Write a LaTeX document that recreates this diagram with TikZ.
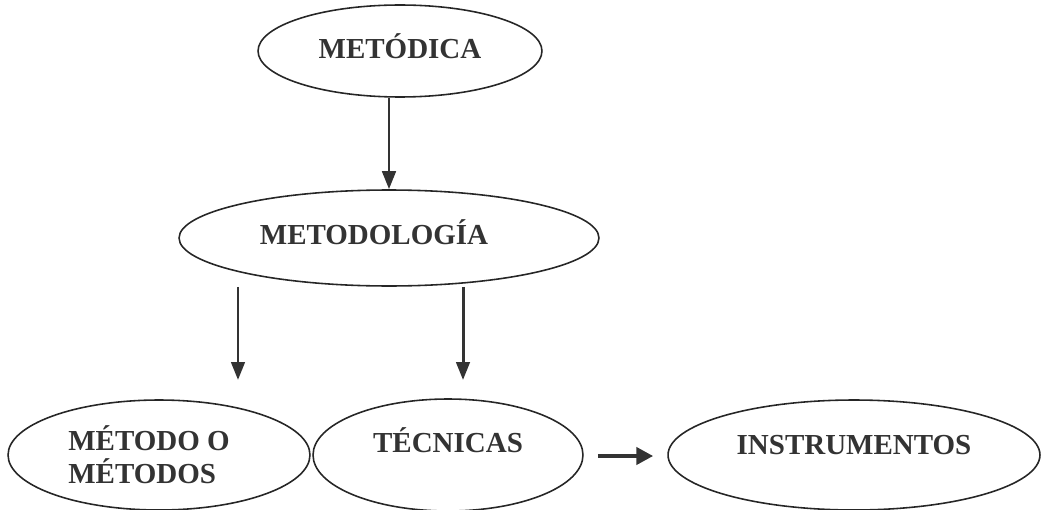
\documentclass[tikz,border=0pt]{standalone}
\usepackage{fontspec}
\setmainfont{Liberation Serif}
\usetikzlibrary{shapes.geometric, arrows.meta}

\begin{document}
\begin{tikzpicture}
            [->, >={Triangle[length=0.36cm, width=0.27cm]}, x=0.02cm, y=-0.02cm, semithick,
             concept/.style={shape=ellipse, draw=black!85, line width=0.9pt, inner sep=0pt,
                             text=black!80, font=\fontsize{16.5}{19}\selectfont\bfseries}]
            \useasboundingbox (0,0) rectangle (1044,510);

            \node[concept, minimum width=5.68cm, minimum height=1.84cm, text depth=0.2cm] (metodica) at (400,51) {MET\'ODICA};
            \node[concept, minimum width=8.4cm, minimum height=1.92cm, text depth=0.25cm] (metodologia) at (389,238) {\hspace{-0.6cm}METODOLOG\'IA};
            \node[concept, minimum width=6.04cm, minimum height=2.2cm, align=left] (metodo) at (159,455) {\hspace{-0.4cm}M\'ETODO O\\\hspace{-0.4cm}M\'ETODOS};
            \node[concept, minimum width=5.4cm, minimum height=2.24cm, text depth=0.6cm] (tecnicas) at (448,455) {T\'ECNICAS};
            \node[concept, minimum width=7.44cm, minimum height=2.2cm, text depth=0.4cm] (instrumentos) at (854,455) {INSTRUMENTOS};

            \coordinate (metodoin) at (238,380);
            \coordinate (tecnicasin) at (463,380);

            \path [->, line width=1.7pt, color=black!80] (metodica.south -| metodologia.north) edge (metodologia.north);
            \path [->, line width=1.7pt, color=black!80] (metodologia.south -| metodoin) edge (metodoin);
            \path [->, line width=1.7pt, color=black!80] (metodologia.south -| tecnicasin) edge (tecnicasin);
            \path [-{Triangle[length=0.34cm, width=0.34cm]}, line width=2.8pt, color=black!80] ([shift={(14,1)}]tecnicas.east) edge ([shift={(-14,1)}]instrumentos.west);
        \end{tikzpicture}
\end{document}
